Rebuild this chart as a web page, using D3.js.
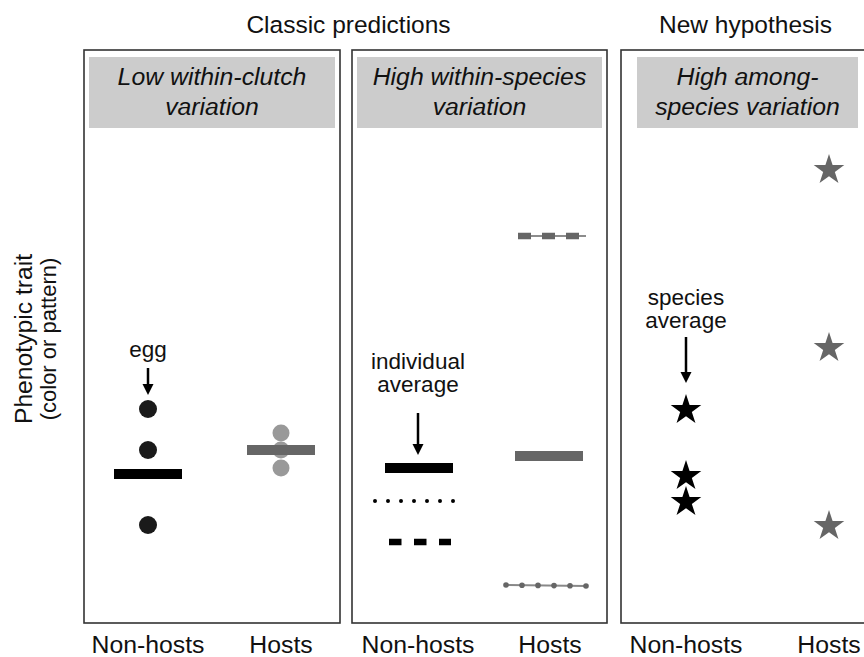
<!DOCTYPE html>
<html>
<head>
<meta charset="utf-8">
<script src="https://cdn.jsdelivr.net/npm/d3@7.9.0/dist/d3.min.js"></script>
<style>
  body { margin: 0; background: #fff; }
  svg { display: block; font-family: "Liberation Sans", Arial, sans-serif; }
</style>
</head>
<body>
<div id="chart"></div>
<script>
// trait values on an arbitrary 0-100 scale
const groups = ['Non-hosts', 'Hosts'];
const headings = [
    { text: 'Classic predictions', panels: [0, 1] },
    { text: 'New hypothesis', panels: [2] }
];
const panelTitles = [
    ['Low within-clutch', 'variation'],
    ['High within-species', 'variation'],
    ['High among-', 'species variation']
];

const nonHostEggs = [42.2, 34, 19];
const nonHostEggMean = 29.2;
const hostEggs = [37.4, 34, 30.4];
const hostEggMean = 34;

const nonHostIndividuals = [
    { value: 30.4, style: 'solid' },
    { value: 23.8, style: 'dotted' },
    { value: 15.6, style: 'dashed' }
];
const hostIndividuals = [
    { value: 76.8, style: 'dashed' },
    { value: 32.8, style: 'solid' },
    { value: 7, style: 'dotted' }
];

const nonHostSpecies = [42, 28.8, 23.6];
const hostSpecies = [90, 54.4, 18.8];

const annotations = [
    { panel: 0, lines: ['egg'], value: 52.6, arrowTop: 50.4, arrowTip: 45 },
    { panel: 1, lines: ['individual', 'average'], value: 50.2, arrowTop: 41.4, arrowTip: 33 },
    { panel: 2, lines: ['species', 'average'], value: 63, arrowTop: 56.6, arrowTip: 47.4 }
];

const width = 864;
const height = 657;

const layout = [
    { left: 84, right: 340, boxLeft: 89, boxRight: 335, cols: [148, 281] },
    { left: 352, right: 607, boxLeft: 357, boxRight: 602, cols: [418, 550] },
    { left: 621, right: 890, boxLeft: 637, boxRight: 858, cols: [686, 829] }
];
const frameTop = 50;
const frameBottom = 623;

const y = d3.scaleLinear().domain([0, 100]).range([620, 120]);

const svg = d3.select('#chart').append('svg')
    .attr('width', width)
    .attr('height', height);

const black = '#000';
const dark = '#1a1a1a';
const gray = '#666';
const light = '#999';

// headings
svg.selectAll('text.heading')
    .data(headings)
    .join('text')
    .attr('class', 'heading')
    .attr('x', d => {
        const l = layout[d.panels[0]];
        const r = layout[d.panels[d.panels.length - 1]];
        return d.panels.length > 1 ? (l.left + r.right) / 2 + 3 : (l.left + 870) / 2;
    })
    .attr('y', 33)
    .attr('text-anchor', 'middle')
    .attr('font-size', 24.5)
    .attr('fill', '#111')
    .text(d => d.text);

// y axis label
const yLab = svg.append('g').attr('transform', 'translate(0, 339) rotate(-90)');
yLab.append('text').attr('x', 0).attr('y', 32).attr('text-anchor', 'middle')
    .attr('font-size', 24.7).attr('fill', '#111').text('Phenotypic trait');
yLab.append('text').attr('x', 0).attr('y', 56).attr('text-anchor', 'middle')
    .attr('font-size', 22).attr('fill', '#111').text('(color or pattern)');

// panels
const panel = svg.selectAll('g.panel')
    .data(layout)
    .join('g')
    .attr('class', 'panel');

panel.append('rect')
    .attr('x', d => d.left)
    .attr('y', frameTop)
    .attr('width', d => d.right - d.left)
    .attr('height', frameBottom - frameTop)
    .attr('fill', 'none')
    .attr('stroke', '#333')
    .attr('stroke-width', 1.6);

panel.append('rect')
    .attr('x', d => d.boxLeft)
    .attr('y', 57)
    .attr('width', d => d.boxRight - d.boxLeft)
    .attr('height', 71)
    .attr('fill', '#cccccc');

panel.each(function (d, i) {
    d3.select(this).selectAll('text.ptitle')
        .data(panelTitles[i])
        .join('text')
        .attr('class', 'ptitle')
        .attr('x', (d.boxLeft + d.boxRight) / 2)
        .attr('y', (t, j) => 85 + j * 30)
        .attr('text-anchor', 'middle')
        .attr('font-size', 24.8)
        .attr('font-style', 'italic')
        .attr('fill', '#111')
        .text(t => t);

    d3.select(this).selectAll('text.group')
        .data(groups)
        .join('text')
        .attr('class', 'group')
        .attr('x', (g, j) => d.cols[j])
        .attr('y', 653)
        .attr('text-anchor', 'middle')
        .attr('font-size', 24.8)
        .attr('fill', '#111')
        .text(g => g);
});

// panel 1: eggs
const p1 = layout[0];
svg.append('g').selectAll('circle')
    .data(nonHostEggs)
    .join('circle')
    .attr('cx', p1.cols[0])
    .attr('cy', d => y(d))
    .attr('r', 9)
    .attr('fill', dark);

svg.append('rect')
    .attr('x', p1.cols[0] - 34).attr('y', y(nonHostEggMean) - 5)
    .attr('width', 68).attr('height', 10).attr('fill', black);

svg.append('g').selectAll('circle')
    .data(hostEggs)
    .join('circle')
    .attr('cx', p1.cols[1])
    .attr('cy', d => y(d))
    .attr('r', 8.5)
    .attr('fill', light);

svg.append('rect')
    .attr('x', p1.cols[1] - 34).attr('y', y(hostEggMean) - 5)
    .attr('width', 68).attr('height', 10).attr('fill', gray);

// panel 2: individual averages as line styles
function drawIndividual(g, cx, d, color, host) {
    const v = y(d.value);
    if (d.style === 'solid') {
        g.append('rect').attr('x', cx - 34 + (host ? -1 : 1)).attr('y', v - 5)
            .attr('width', 68).attr('height', 10).attr('fill', color);
    } else if (d.style === 'dashed') {
        if (host) {
            g.append('line').attr('x1', cx - 32).attr('x2', cx + 36)
                .attr('y1', v).attr('y2', v)
                .attr('stroke', color).attr('stroke-width', 1.3);
            g.append('line').attr('x1', cx - 32).attr('x2', cx + 33)
                .attr('y1', v).attr('y2', v)
                .attr('stroke', color).attr('stroke-width', 6.5)
                .attr('stroke-dasharray', '13 11');
        } else {
            g.append('line').attr('x1', cx - 29).attr('x2', cx + 33)
                .attr('y1', v).attr('y2', v)
                .attr('stroke', color).attr('stroke-width', 6.5)
                .attr('stroke-dasharray', '12.5 12.5');
        }
    } else {
        if (host) {
            g.append('line').attr('x1', cx - 44).attr('x2', cx + 36)
                .attr('y1', v).attr('y2', v + 1)
                .attr('stroke', '#888').attr('stroke-width', 1.8);
            g.append('g').selectAll('circle')
                .data(d3.range(6))
                .join('circle')
                .attr('cx', k => cx - 44 + k * 16)
                .attr('cy', k => v + k * 0.2)
                .attr('r', 2.8)
                .attr('fill', color);
        } else {
            g.append('line').attr('x1', cx - 43).attr('x2', cx + 36)
                .attr('y1', v).attr('y2', v)
                .attr('stroke', color).attr('stroke-width', 4)
                .attr('stroke-linecap', 'round')
                .attr('stroke-dasharray', '0 13');
        }
    }
}
const p2 = layout[1];
const g2 = svg.append('g');
nonHostIndividuals.forEach(d => drawIndividual(g2, p2.cols[0], d, black, false));
hostIndividuals.forEach(d => drawIndividual(g2, p2.cols[1], d, gray, true));

// panel 3: species averages as stars
const p3 = layout[2];
const star = d3.symbol(d3.symbolStar, 290);
svg.append('g').selectAll('path')
    .data(nonHostSpecies)
    .join('path')
    .attr('transform', d => `translate(${p3.cols[0]}, ${y(d)})`)
    .attr('d', star)
    .attr('fill', black);
svg.append('g').selectAll('path')
    .data(hostSpecies)
    .join('path')
    .attr('transform', d => `translate(${p3.cols[1]}, ${y(d)})`)
    .attr('d', star)
    .attr('fill', gray);

// annotations with arrows
annotations.forEach(a => {
    const cx = layout[a.panel].cols[0];
    const g = svg.append('g');
    g.selectAll('text')
        .data(a.lines)
        .join('text')
        .attr('x', cx)
        .attr('y', (t, j) => y(a.value) + j * 23)
        .attr('text-anchor', 'middle')
        .attr('font-size', 22.5)
        .attr('fill', '#111')
        .text(t => t);
    const top = y(a.arrowTop);
    const tip = y(a.arrowTip);
    g.append('line')
        .attr('x1', cx).attr('x2', cx)
        .attr('y1', top).attr('y2', tip - 8)
        .attr('stroke', black).attr('stroke-width', 2.5);
    g.append('path')
        .attr('d', `M${cx - 5.5},${tip - 11}L${cx + 5.5},${tip - 11}L${cx},${tip}Z`)
        .attr('fill', black);
});
</script>
</body>
</html>
